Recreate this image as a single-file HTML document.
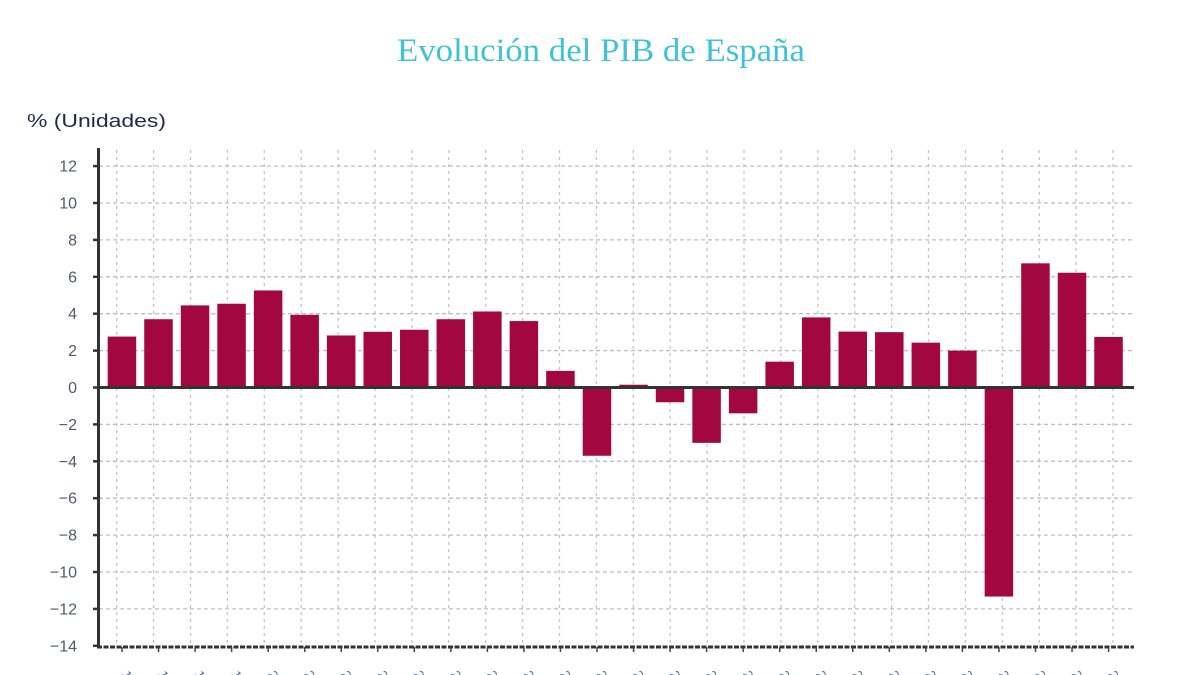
<!DOCTYPE html>
<html>
<head>
<meta charset="utf-8">
<style>
html,body{margin:0;padding:0;background:#fff;}
svg{display:block;}
</style>
</head>
<body>
<svg width="1200" height="675" viewBox="0 0 1200 675" xmlns="http://www.w3.org/2000/svg">
<rect width="1200" height="675" fill="#ffffff"/>
<text x="601" y="61" text-anchor="middle" font-family="Liberation Serif, serif" font-size="33" fill="#3fc2d5" textLength="408" lengthAdjust="spacingAndGlyphs">Evolución del PIB de España</text>
<text x="27" y="127" font-family="Liberation Sans, sans-serif" font-size="18" fill="#1f2a4a" textLength="139" lengthAdjust="spacingAndGlyphs">% (Unidades)</text>

<g id="vgrid" stroke="#c4c4c4" stroke-width="1.3" stroke-dasharray="3,4"></g>
<g id="hgrid" stroke="#bdbdbd" stroke-width="1.3" stroke-dasharray="4,3"></g>
<g id="bars" fill="#a3073f"></g>
<g id="ylab" font-family="Liberation Sans, sans-serif" font-size="16" fill="#4d5b70" text-anchor="end"></g>
<g id="axes"></g>
<g id="xlab" font-family="Liberation Sans, sans-serif" font-size="13" fill="#5a6a85"></g>
</svg>
<script>
var NS="http://www.w3.org/2000/svg";
function el(tag,attrs,parent,txt){var e=document.createElementNS(NS,tag);for(var k in attrs)e.setAttribute(k,attrs[k]);if(txt!==undefined)e.textContent=txt;document.getElementById(parent).appendChild(e);return e;}
function Y(v){return 387.5 - v*18.45;}
// vertical grid
for(var i=0;i<28;i++){var x=116.7+36.9*i;el('line',{x1:x,x2:x,y1:150,y2:646},'vgrid');}
// horizontal grid
for(var v=-14;v<=12;v+=2){if(v===0||v===-14)continue;el('line',{x1:99,x2:1134,y1:Y(v),y2:Y(v)},'hgrid');}
// bars
var vals=[2.76,3.7,4.45,4.54,5.26,3.94,2.82,3.02,3.13,3.7,4.12,3.6,0.9,-3.7,0.15,-0.8,-3.0,-1.4,1.4,3.8,3.03,3.0,2.43,2.0,-11.33,6.73,6.22,2.74];
for(var i=0;i<vals.length;i++){var x=107.7+36.54*i;var v=vals[i];var y0=Y(0),y1=Y(v);el('rect',{x:x,y:Math.min(y0,y1),width:28.5,height:Math.abs(y1-y0)},'bars');}
// y labels
for(var v=-14;v<=12;v+=2){var t=(v<0?'\u2212'+(-v):''+v);el('text',{x:77,y:Y(v)+5.5},'ylab',t);el('line',{x1:93,x2:98,y1:Y(v),y2:Y(v),stroke:'#333','stroke-width':2.5},'axes');}
// zero line
el('line',{x1:97,x2:1134,y1:Y(0),y2:Y(0),stroke:'#333','stroke-width':3},'axes');
// bottom axis
el('line',{x1:97,x2:1134,y1:647,y2:647,stroke:'#333','stroke-width':3,'stroke-dasharray':'5,1.5'},'axes');
// y axis
el('line',{x1:98.5,x2:98.5,y1:148,y2:648.5,stroke:'#333','stroke-width':3},'axes');
// bottom ticks
for(var i=0;i<28;i++){var cx=122+36.54*i;el('line',{x1:cx,x2:cx,y1:647,y2:652,stroke:'#444','stroke-width':1.5},'axes');
 var lx=cx+8, ly=669;
 el('text',{x:lx,y:ly+10,transform:'rotate(60 '+lx+' '+ly+')'},'xlab',''+(1996+i));}
</script>
</body>
</html>
